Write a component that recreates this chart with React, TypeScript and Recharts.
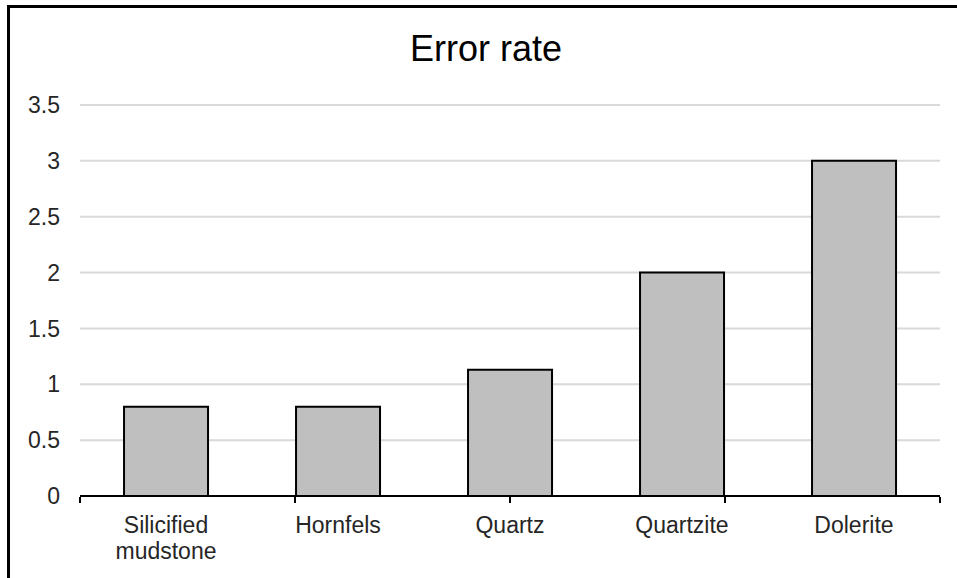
import { BarChart, Bar, XAxis, YAxis, CartesianGrid } from 'recharts';

const categories = ['Silicified mudstone', 'Hornfels', 'Quartz', 'Quartzite', 'Dolerite'];
const errorRate = [0.8, 0.8, 1.13, 2.0, 3.0];
const yTicks = [0, 0.5, 1, 1.5, 2, 2.5, 3, 3.5];
const edgeTicks = [0, 1, 2, 3, 4, 5];

const data = categories.map((name, i) => ({ name, value: errorRate[i] }));

const FONT = 'Arial, "Liberation Sans", sans-serif';

// category label, two-word names go on two lines
const CategoryTick = (props: any) => {
  const { x, y, payload } = props;
  const lines = String(payload.value).split(' ');
  return (
    <text x={x} y={y} textAnchor="middle" fontSize={23} fontFamily={FONT} fill="#262626">
      {lines.map((line, i) => (
        <tspan key={i} x={x} dy={i === 0 ? 16 : 26}>
          {line}
        </tspan>
      ))}
    </text>
  );
};

const NoLabel = () => <g />;

export default function App() {
  return (
    <div style={{ position: 'absolute', left: 0, top: 0, width: 957, height: 578, background: '#fff', overflow: 'hidden' }}>
      {/* frame */}
      <div
        style={{
          position: 'absolute',
          left: 7,
          top: 5,
          width: 960,
          height: 580,
          borderTop: '3px solid #000',
          borderLeft: '3px solid #000',
          boxSizing: 'border-box',
        }}
      />
      <div
        style={{
          position: 'absolute',
          left: 0,
          top: 31,
          width: 972,
          textAlign: 'center',
          fontFamily: FONT,
          fontSize: 36,
          lineHeight: '35px',
          color: '#000',
        }}
      >
        Error rate
      </div>
      <div style={{ position: 'absolute', left: 0, top: 0 }}>
        <BarChart
          width={957}
          height={578}
          data={data}
          margin={{ top: 105, right: 17, left: 0, bottom: 80 }}
          barCategoryGap="25.6%"
        >
          <CartesianGrid vertical={false} stroke="#d9d9d9" strokeWidth={2} />
          <XAxis
            dataKey="name"
            height={1}
            axisLine={{ stroke: '#000', strokeWidth: 2 }}
            tickLine={false}
            tickSize={0}
            tickMargin={21}
            interval={0}
            tick={<CategoryTick />}
          />
          <XAxis
            xAxisId="edge"
            type="number"
            domain={[0, 5]}
            ticks={edgeTicks}
            height={1}
            axisLine={false}
            tickLine={{ stroke: '#000', strokeWidth: 2 }}
            tickSize={6}
            tick={<NoLabel />}
          />
          <YAxis
            width={80}
            domain={[0, 3.5]}
            ticks={yTicks}
            axisLine={false}
            tickLine={false}
            tickMargin={14}
            tick={{ fontSize: 23, fontFamily: FONT, fill: '#262626' }}
          />
          <Bar
            dataKey="value"
            fill="#bfbfbf"
            stroke="#000"
            strokeWidth={2}
            isAnimationActive={false}
          />
        </BarChart>
      </div>
    </div>
  );
}
